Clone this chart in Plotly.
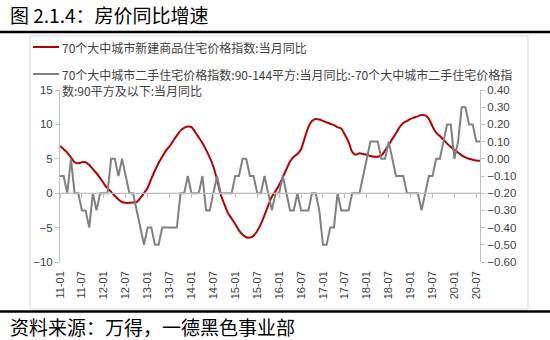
import plotly.graph_objects as go

# ---- data ----
months = []
for yy in range(11, 21):
    for mm in range(1, 13):
        months.append(f"{yy:02d}-{mm:02d}")
months = months[:116]  # 2011-01 .. 2020-08

new_home = [6.85, 6.4, 5.9, 5.2, 4.5, 4.35, 4.5, 4.5, 4.1, 3.5,
            2.9, 2.2, 1.4, 0.7, 0.2, -0.4, -0.9, -1.3, -1.4, -1.4,
            -1.35, -1.3, -0.7, 0.0, 0.8, 2.1, 3.3, 4.4, 5.3, 6.2,
            6.8, 7.6, 8.4, 9.1, 9.5, 9.7, 9.6, 8.9, 8.1, 7.3,
            6.3, 5.2, 3.85, 2.0, -0.2, -1.6, -2.9, -3.7, -4.5, -5.4,
            -6.0, -6.4, -6.45, -6.2, -5.5, -4.5, -3.2, -1.8, -0.5, 0.3,
            1.2, 2.3, 3.5, 4.6, 5.3, 5.7, 6.4, 8.0, 9.6, 10.5,
            10.8, 10.7, 10.5, 10.3, 10.1, 9.9, 9.6, 9.4, 8.5, 7.5,
            6.0, 5.6, 5.8, 5.7, 5.6, 5.4, 5.3, 5.3, 5.5, 6.2,
            7.0, 7.9, 8.7, 9.6, 10.2, 10.5, 10.8, 11.0, 11.2, 11.35,
            11.3, 10.8, 9.7, 8.8, 8.3, 7.8, 7.2, 6.7, 6.3, 5.9,
            5.5, 5.2, 5.0, 4.85, 4.75, 4.7]

second_hand_diff = [-0.1, -0.1, -0.2, 0.0, -0.2, -0.2, -0.3, -0.3, -0.4, -0.2,
                    -0.3, -0.2, -0.2, -0.2, 0.0, 0.0, -0.1, 0.0, -0.1, -0.2,
                    -0.2, -0.3, -0.4, -0.5, -0.4, -0.4, -0.5, -0.5, -0.4, -0.4,
                    -0.4, -0.4, -0.4, -0.2, -0.2, -0.1, -0.2, -0.2, -0.2, -0.1,
                    -0.3, -0.3, -0.2, -0.1, -0.2, -0.2, -0.2, -0.2, -0.1, -0.1,
                    0.0, 0.0, -0.1, -0.1, -0.2, -0.2, -0.1, -0.2, -0.3, -0.2,
                    -0.2, -0.1, -0.2, -0.3, -0.3, -0.2, -0.3, -0.3, -0.3, -0.2,
                    -0.2, -0.3, -0.5, -0.5, -0.4, -0.4, -0.2, -0.3, -0.3, -0.3,
                    -0.2, -0.2, -0.2, -0.1, 0.0, 0.1, 0.1, 0.1, 0.0, 0.0,
                    0.1, 0.0, -0.1, -0.1, -0.1, -0.2, -0.2, -0.2, -0.2, -0.3,
                    -0.2, -0.1, -0.1, 0.0, 0.0, 0.1, 0.2, 0.2, 0.0, 0.1,
                    0.3, 0.3, 0.2, 0.2, 0.1, 0.1]

tick_labels = months[::6]
left_ticks = [-10, -5, 0, 5, 10, 15]
right_ticks = [-0.6, -0.5, -0.4, -0.3, -0.2, -0.1, 0.0, 0.1, 0.2, 0.3, 0.4]

name_red = "70个大中城市新建商品住宅价格指数:当月同比"
name_gray = "70个大中城市二手住宅价格指数:90-144平方:当月同比:-70个大中城市二手住宅价格指<br>数:90平方及以下:当月同比"

RED = "#b40000"
GRAY = "#808080"
AXIS = "#bfbfbf"
TXT = "#404040"
FONT = "Liberation Sans, Noto Sans CJK SC"
CJK = "Noto Sans CJK SC"

# plot area in pixels
L, R, T, B = 60, 480, 90, 262
W, H = 550, 340


def px(x):
    return (x - L) / (R - L)


def py(y):
    return (B - y) / (B - T)


xi = list(range(len(months)))

fig = go.Figure()
fig.add_trace(go.Scatter(x=xi, y=second_hand_diff, name=name_gray, mode="lines",
                         line=dict(color=GRAY, width=2), yaxis="y2", xaxis="x",
                         showlegend=False))
fig.add_trace(go.Scatter(x=xi, y=new_home, name=name_red, mode="lines",
                         line=dict(color=RED, width=2, shape="spline", smoothing=0.6),
                         showlegend=False))
# invisible trace to carry ticks on the zero-line axis
fig.add_trace(go.Scatter(x=[xi[0], xi[-1]], y=[0, 0], xaxis="x2", yaxis="y",
                         mode="lines", line=dict(color=AXIS, width=1),
                         showlegend=False, hoverinfo="skip"))

fig.update_layout(
    width=W, height=H,
    margin=dict(l=L, r=W - R, t=T, b=H - B, pad=0),
    paper_bgcolor="white", plot_bgcolor="white",
    font=dict(family=FONT, size=11, color=TXT),
    xaxis=dict(range=[0, len(months) - 1], tickmode="array",
               tickvals=xi[::6], ticktext=tick_labels, tickangle=-90,
               showline=False, showgrid=False, zeroline=False, ticks="",
               tickfont=dict(size=11, color=TXT), ticklabelstandoff=6),
    xaxis2=dict(range=[0, len(months) - 1], overlaying="x", anchor="free",
                position=0.4, tickmode="array", tickvals=xi[::6],
                showticklabels=False, ticks="outside", ticklen=4,
                tickcolor=AXIS, showline=True, linecolor=AXIS,
                showgrid=False, zeroline=False),
    yaxis=dict(range=[-10, 15], tickvals=left_ticks, showgrid=False,
               zeroline=False, showline=True, linecolor=AXIS, linewidth=1,
               ticks="outside", ticklen=4, tickcolor=AXIS,
               tickfont=dict(size=11.5, color=TXT)),
    yaxis2=dict(range=[-0.6, 0.4], tickvals=right_ticks, tickformat=".2f",
                overlaying="y", side="right", anchor="x", showgrid=False,
                zeroline=False, showline=True, linecolor=AXIS, linewidth=1,
                ticks="outside", ticklen=4, tickcolor=AXIS,
                tickfont=dict(size=11.5, color=TXT)),
)

shapes = [
    # chart frame
    dict(type="rect", xref="paper", yref="paper", x0=px(30), x1=px(528),
         y0=py(309), y1=py(36), line=dict(color="#d9d9d9", width=1), layer="below"),
    # title rule
    dict(type="line", xref="paper", yref="paper", x0=px(0), x1=px(550),
         y0=py(32), y1=py(32), line=dict(color="black", width=2.5)),
    # bottom rule
    dict(type="line", xref="paper", yref="paper", x0=px(0), x1=px(550),
         y0=py(311.5), y1=py(311.5), line=dict(color="black", width=2.5)),
    # legend samples
    dict(type="line", xref="paper", yref="paper", x0=px(33), x1=px(59),
         y0=py(47), y1=py(47), line=dict(color=RED, width=2)),
    dict(type="line", xref="paper", yref="paper", x0=px(33), x1=px(59),
         y0=py(74), y1=py(74), line=dict(color=GRAY, width=2)),
]

annotations = [
    dict(text="图 2.1.4：房价同比增速", xref="paper", yref="paper", x=px(8), y=py(15),
         xanchor="left", yanchor="middle", showarrow=False,
         font=dict(family=CJK, size=19, color="black")),
    dict(text="资料来源：万得，一德黑色事业部", xref="paper", yref="paper", x=px(8), y=py(326),
         xanchor="left", yanchor="middle", showarrow=False,
         font=dict(family=CJK, size=19, color="black")),
    dict(text=name_red, xref="paper", yref="paper", x=px(60), y=py(47),
         xanchor="left", yanchor="middle", showarrow=False,
         font=dict(family=CJK, size=12, color=TXT)),
    dict(text=name_gray, xref="paper", yref="paper", x=px(60), y=py(64),
         xanchor="left", yanchor="top", showarrow=False, align="left",
         font=dict(family=CJK, size=12, color=TXT)),
]

fig.update_layout(shapes=shapes, annotations=annotations)
fig.write_html("out.html")
